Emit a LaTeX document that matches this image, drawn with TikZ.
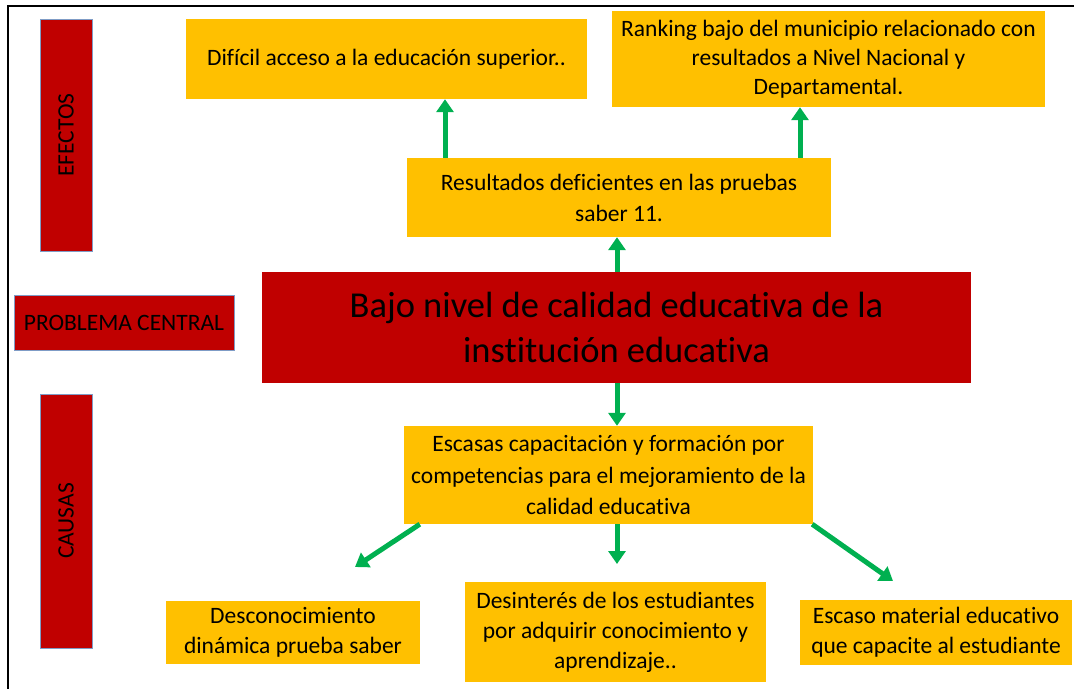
\documentclass[tikz,border=0pt]{standalone}
\usepackage{fontspec}
\setmainfont{Carlito}[Ligatures=NoCommon]
\usetikzlibrary{arrows.meta}
\definecolor{ored}{HTML}{C00000}
\definecolor{oyel}{HTML}{FFC000}
\definecolor{ogrn}{HTML}{00B050}
\definecolor{obrd}{HTML}{7F9CC6}
\tikzset{
  side/.style={fill=ored, draw=obrd, line width=1pt, inner sep=0pt, font=\fontsize{23.5}{28}\selectfont},
  ybox/.style={fill=oyel, draw=none, inner sep=0pt, align=center},
  arr/.style={draw=ogrn, line width=5pt, -{Triangle[width=17pt,length=13pt]}},
}
\begin{document}
\begin{tikzpicture}[x=1pt,y=-1pt]
\useasboundingbox (0,0) rectangle (1074,689);
% frame
\coordinate (ftl) at (8,6);
\coordinate (ftr) at (1074,6);
\coordinate (fbl) at (8,689);
\draw[line width=2pt] (ftr) -- (ftl) -- (fbl);
% side labels
\node[side, minimum width=52, minimum height=232] (efectos) at (66,135) {\rotatebox{90}{EFECTOS}};
\node[side, minimum width=220, minimum height=55] (problema) at (124,322.5) {PROBLEMA CENTRAL};
\node[side, minimum width=52, minimum height=254] (causas) at (66,521) {\rotatebox{90}{CAUSAS}};
% boxes
\node[ybox, minimum width=401, minimum height=80, font=\fontsize{23.5}{29}\selectfont] (b1) at (386.5,59) {Difícil acceso a la educación superior..};
\node[ybox, minimum width=433, minimum height=96, font=\fontsize{23.5}{29}\selectfont] (b2) at (828.5,59) {Ranking bajo del municipio relacionado con\\resultados a Nivel Nacional y\\Departamental.};
\node[ybox, minimum width=424, minimum height=79, font=\fontsize{23.5}{31}\selectfont] (b3) at (619,197.5) {Resultados deficientes en las pruebas\\saber 11.};
\node[fill=ored, inner sep=0pt, align=center, minimum width=709, minimum height=111, font=\fontsize{36.5}{45}\selectfont] (central) at (616.5,327.5) {Bajo nivel de calidad educativa de la\\institución educativa};
\node[ybox, minimum width=409, minimum height=98, font=\fontsize{23.5}{31.5}\selectfont] (b4) at (608.5,475) {Escasas capacitación y formación por\\competencias para el mejoramiento de la\\calidad educativa};
\node[ybox, minimum width=254, minimum height=63, font=\fontsize{23.5}{30}\selectfont] (b5) at (293,632.5) {Desconocimiento\\dinámica prueba saber};
\node[ybox, minimum width=301, minimum height=100, font=\fontsize{23.5}{30}\selectfont] (b6) at (615.5,632) {Desinterés de los estudiantes\\por adquirir conocimiento y\\aprendizaje..};
\node[ybox, minimum width=272, minimum height=65, font=\fontsize{23.5}{30}\selectfont] (b7) at (936,632.5) {Escaso material educativo\\que capacite al estudiante};
% arrows
\draw[arr] (b3.north -| 445,0) -- (b1.south -| 445,0);
\draw[arr] (b3.north -| 800,0) -- (b2.south -| 800,0);
\draw[arr] (central.north -| 617,0) -- (b3.south -| 617,0);
\draw[arr] (central.south -| 617,0) -- (b4.north -| 617,0);
\coordinate (t5) at (355,567);
\coordinate (t6) at (617,564);
\coordinate (t7) at (893,581);
\draw[arr] ([xshift=16]b4.south west) -- (t5);
\draw[arr] (b4.south -| 617,0) -- (t6);
\draw[arr] ([xshift=-1]b4.south east) -- (t7);
\end{tikzpicture}
\end{document}
